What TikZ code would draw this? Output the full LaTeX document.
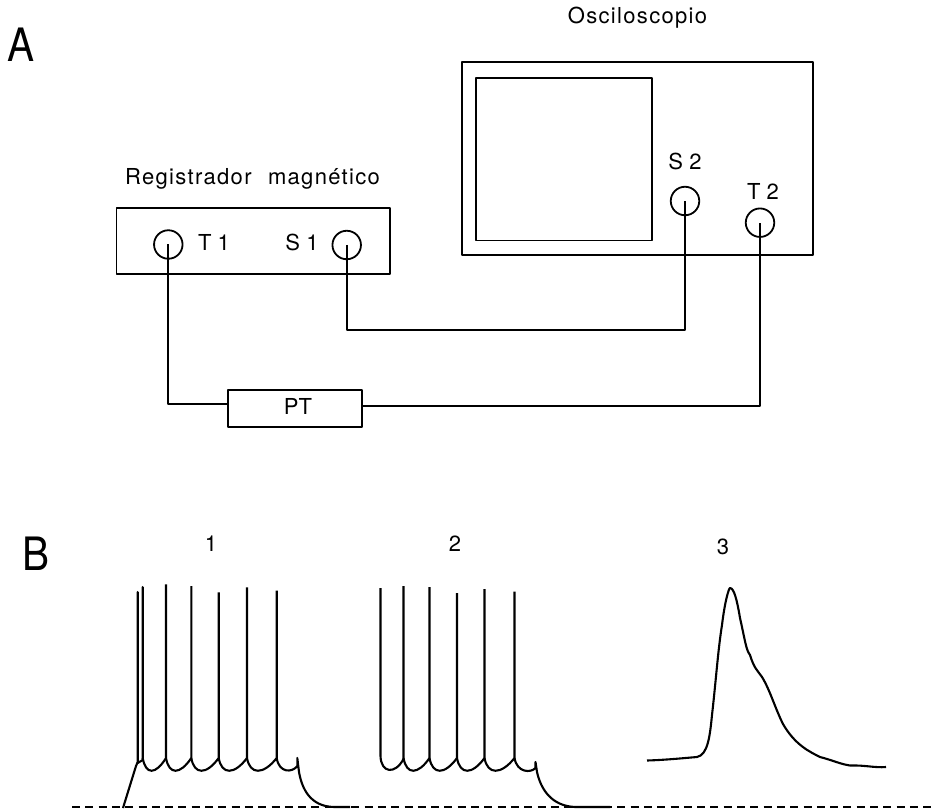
\documentclass[tikz,border=0pt]{standalone}
\usepackage{fontspec}
\setmainfont{TeX Gyre Heros}
\begin{document}
\begin{tikzpicture}[x=1pt,y=-1pt,line join=round,
  wire/.style={draw=black,line width=2pt},
  box/.style={draw=black,line width=1.8pt,fill=none,inner sep=0pt},
  port/.style={circle,draw=black,line width=1.8pt,minimum size=28.5pt,inner sep=0pt},
  lab/.style={font=\fontsize{22}{24}\selectfont,inner sep=0pt,text=black},
  big/.style={font=\fontsize{46}{48}\selectfont,inner sep=0pt,text=black,xscale=.88},
  trace/.style={draw=black,line width=2.1pt,line join=round}]
\useasboundingbox (0,0) rectangle (931,810);
\node[box,minimum width=351.5pt,minimum height=193pt] (osc) at (637.4,158.5) {};
\node[box,minimum width=176pt,minimum height=162.5pt] (scr) at (564,159.3) {};
\node[box,minimum width=273.5pt,minimum height=66pt] (reg) at (253.3,241.2) {};
\node[port] (T1) at (168.3,244.5) {};
\node[port] (S1) at (346.7,245) {};
\node[port] (S2) at (685,201) {};
\node[port] (T2) at (760,222.7) {};
\node[box,minimum width=134pt,minimum height=37.3pt] (PT) at (294.7,408.7) {};
\node[lab] at (298,406) {PT};
\node[lab] at (637.5,18) {\addfontfeature{LetterSpace=6}Osciloscopio};
\node[lab] at (252.5,179) {\addfontfeature{LetterSpace=6}Registrador\hspace{9pt} magnético};
\node[lab] at (214,242) {T 1};
\node[lab] at (302,242) {S 1};
\node[lab] at (685,161.5) {S 2};
\node[lab] at (763,191.5) {T 2};
\node[big] at (21.5,45) {A};
\node[big] at (36,553.5) {B};
\node[lab] at (211,543.5) {1};
\node[lab] at (455,544) {2};
\node[lab] at (723,547) {3};
\coordinate (PTin) at ([yshift=4.7pt]PT.west);
\coordinate (PTout) at ([yshift=2.7pt]PT.east);
\draw[wire] (T1.center) |- (PTin);
\draw[wire] (PTout) -| (T2.center);
\draw[wire] (S1.center) |- (S2.center |- 0,330) -- (S2.center);
\draw[line width=1.7pt,dash pattern=on 8pt off 5.3pt] (72,807) -- (931,807);
% trace 1
\draw[trace] (123,808) -- (136,766) -- (137.7,762) -- (137.7,592) -- (137.7,763) -- (142.7,760) -- (142.7,587) -- (142.7,760);
\foreach \a/\b/\t in {142.7/166/584.3,166/191.3/586,191.3/218.7/592.3,218.7/247/587.3,247/276.7/590.7}
  \draw[trace] (\a,758) .. controls (\a+3,775) and (\a+0.55*\b-0.55*\a,775) .. (\b,758) -- (\b,\t);
\draw[trace] (276.7,758) .. controls (279,773) and (292,773) .. (297.3,766) -- (297.3,758) -- (299,772) .. controls (303,795) and (315,807) .. (335,807) -- (350,807);
% trace 2
\draw[trace] (380.5,588) -- (380.5,756) .. controls (381,773) and (395,775) .. (403.5,759) -- (403.5,586);
\foreach \a/\b/\t in {403.5/429.5/587,429.5/457/593,457/484.5/589,484.5/514.5/591.5}
  \draw[trace] (\a,758) .. controls (\a+3,775) and (\a+0.55*\b-0.55*\a,775) .. (\b,758) -- (\b,\t);
\draw[trace] (514.5,758) .. controls (517,773) and (531,773) .. (535.5,768) -- (535.5,762) -- (537,772) .. controls (541,790) and (552,806) .. (575,807) -- (610,807);
% trace 3
\draw[trace] (647,760.5) .. controls (665,760) and (685,758) .. (697,757) .. controls (708,755) and (710,735) .. (712,715) .. controls (716,680) and (718,650) .. (722,625) .. controls (725,600) and (729,588) .. (730,588) .. controls (734,588) and (737,600) .. (740,618) .. controls (745,640) and (746,650) .. (750,655) .. controls (754,668) and (757,670) .. (762,677) .. controls (770,690) and (775,708) .. (783,724) .. controls (795,745) and (810,752) .. (820,757) .. controls (835,761) and (840,764) .. (850,765.5) .. controls (865,765) and (875,768) .. (886,767);
\end{tikzpicture}
\end{document}
